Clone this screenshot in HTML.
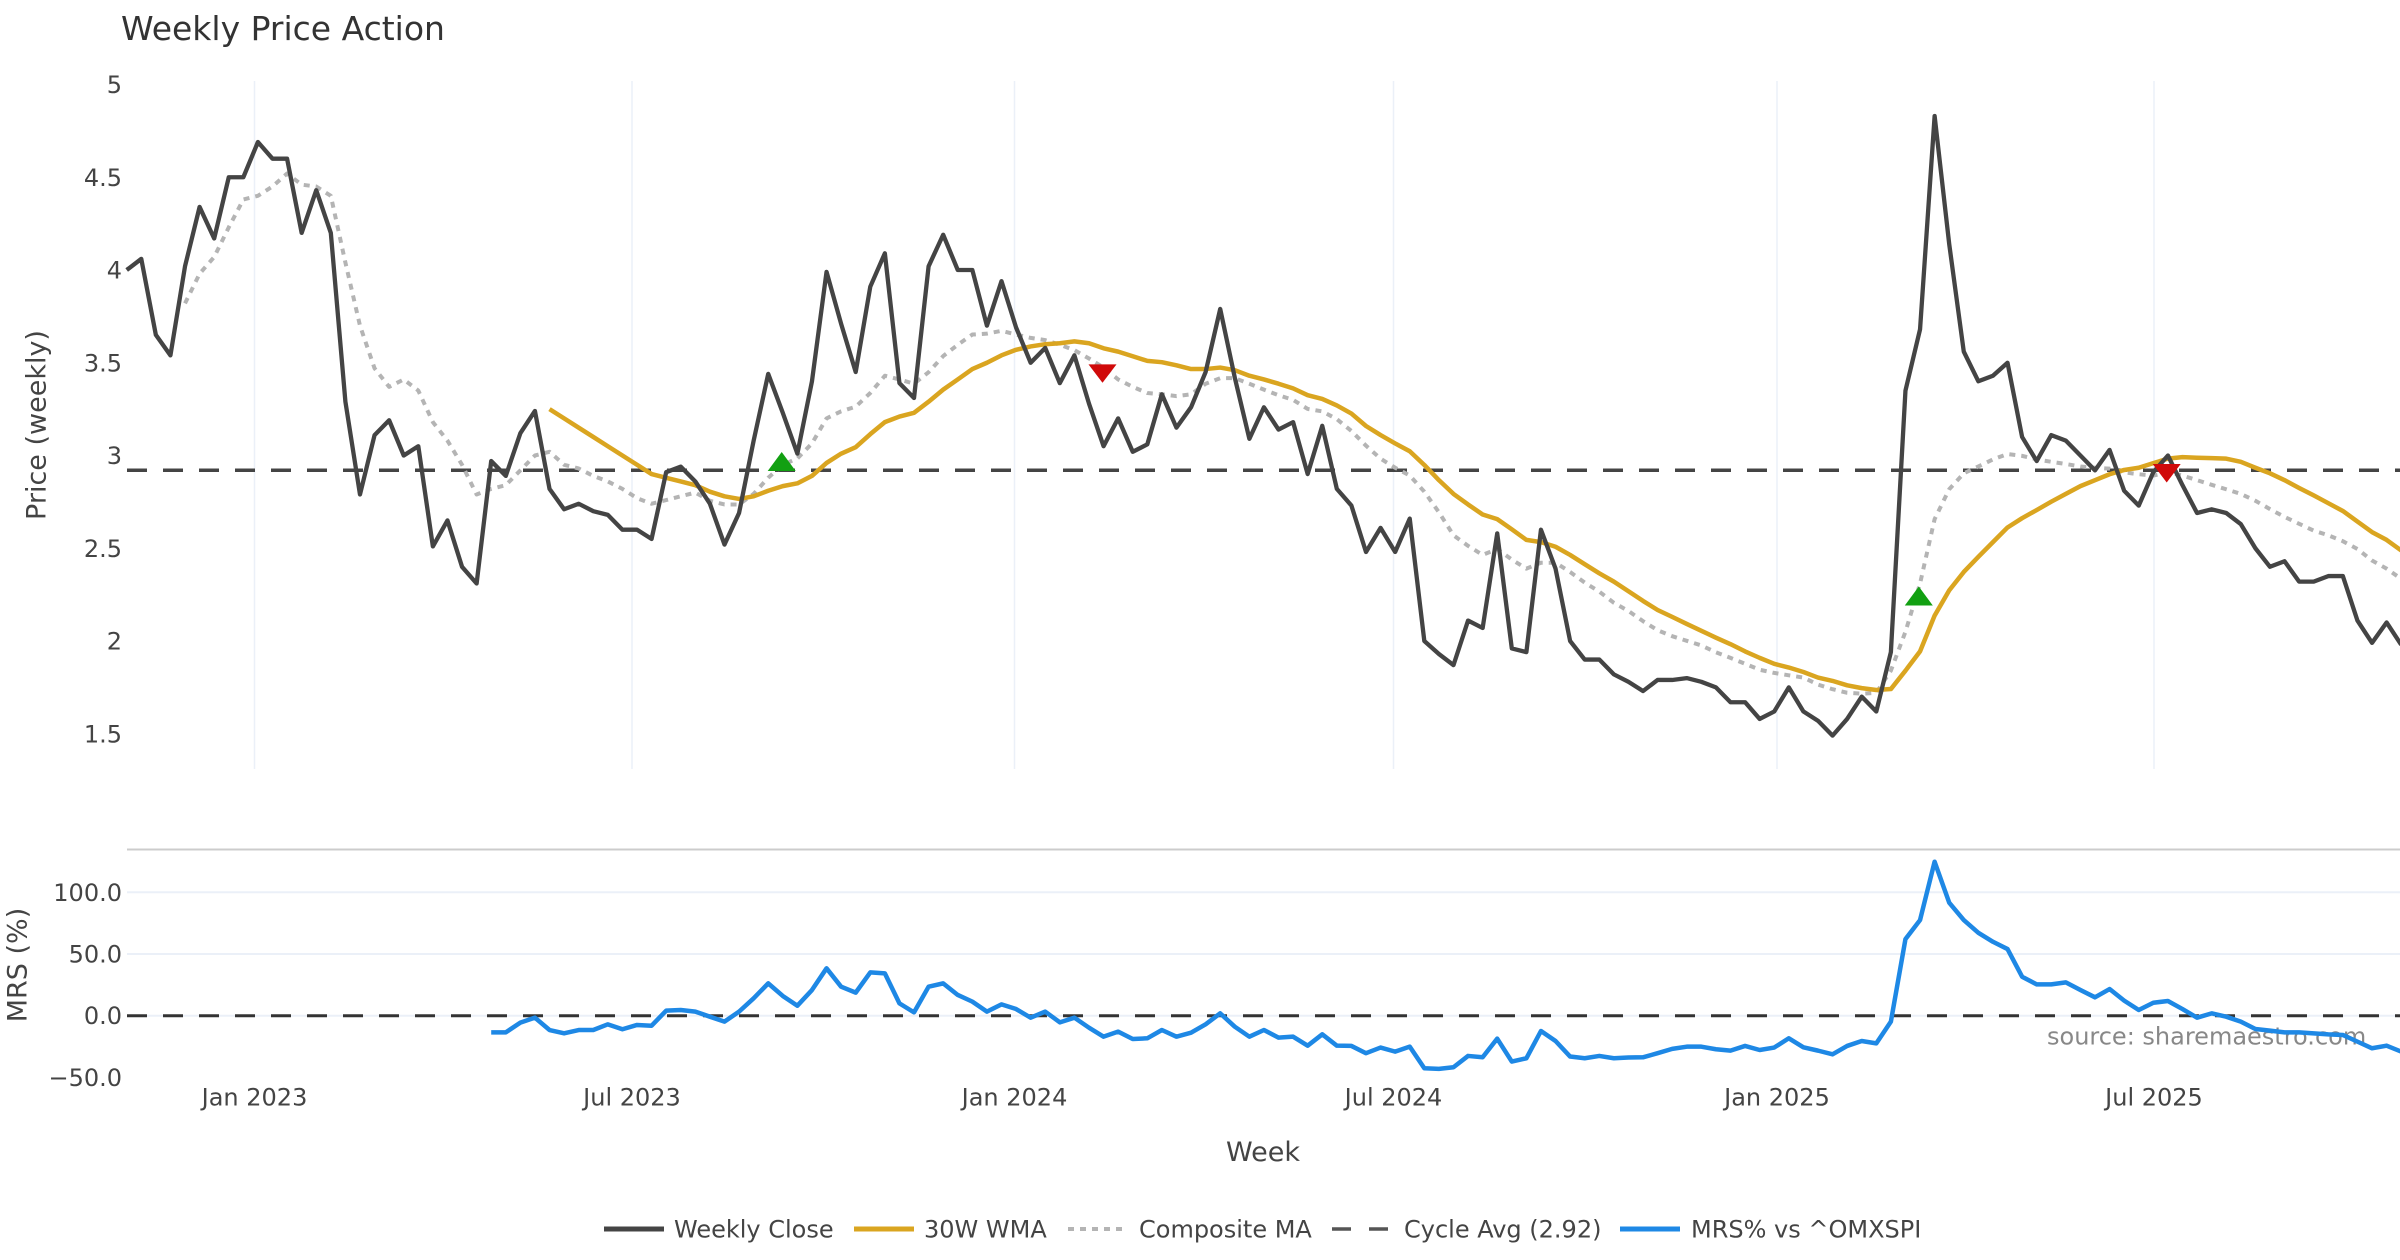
<!DOCTYPE html>
<html>
<head>
<meta charset="utf-8">
<style>
  html, body { margin: 0; padding: 0; background: #ffffff; }
  svg { display: block; }
  text { font-family: "DejaVu Sans", "Liberation Sans", sans-serif; }
</style>
</head>
<body>
<svg xmlns="http://www.w3.org/2000/svg" width="2400" height="1260" viewBox="0 0 2400 1260">
  <rect x="0" y="0" width="2400" height="1260" fill="#ffffff"/>

  <!-- Title -->
  <text x="121" y="40" font-size="33" fill="#333333">Weekly Price Action</text>

  <!-- Price panel vertical gridlines -->
  <g stroke="#EBF0F8" stroke-width="1.5">
    <line x1="254.5" y1="81" x2="254.5" y2="769"/>
    <line x1="632" y1="81" x2="632" y2="769"/>
    <line x1="1014.5" y1="81" x2="1014.5" y2="769"/>
    <line x1="1393.5" y1="81" x2="1393.5" y2="769"/>
    <line x1="1777" y1="81" x2="1777" y2="769"/>
    <line x1="2154" y1="81" x2="2154" y2="769"/>
  </g>

  <!-- Price y tick labels -->
  <g font-size="24" fill="#444444" text-anchor="end">
    <text x="122" y="93">5</text>
    <text x="122" y="186">4.5</text>
    <text x="122" y="278.5">4</text>
    <text x="122" y="371.5">3.5</text>
    <text x="122" y="464">3</text>
    <text x="122" y="557">2.5</text>
    <text x="122" y="649.5">2</text>
    <text x="122" y="742.5">1.5</text>
  </g>

  <!-- Price axis title -->
  <text transform="translate(36,425) rotate(-90)" text-anchor="middle" dy="0.36em" font-size="27" fill="#444444">Price (weekly)</text>

  <!-- Cycle average dashed line -->
  <line x1="127" y1="470.3" x2="2400" y2="470.3" stroke="#444444" stroke-width="3.5" stroke-dasharray="20 16"/>

  <!-- Price series (data coords: x=index, y=value) -->
  <g transform="translate(126.7,1012) scale(14.58,-185.5)" fill="none" stroke-linejoin="round">
    <!-- Composite MA -->
    <polyline vector-effect="non-scaling-stroke" stroke="#b4b4b4" stroke-width="4" stroke-dasharray="6 6"
      points="4,3.82 5,3.98 6,4.07 7,4.23 8,4.38 9,4.40 10,4.45 11,4.52 12,4.46 13,4.45 14,4.40 15,4.04 16,3.70 17,3.47 18,3.37 19,3.41 20,3.35 21,3.18 22,3.08 23,2.95 24,2.79 25,2.82 26,2.84 27,2.92 28,3.00 29,3.02 30,2.95 31,2.93 32,2.89 33,2.86 34,2.82 35,2.77 36,2.74 37,2.76 38,2.78 39,2.80 40,2.756 41,2.736 42,2.736 43,2.793 44,2.88 45,2.95 46,2.984 47,3.065 48,3.20 49,3.238 50,3.263 51,3.337 52,3.43 53,3.41 54,3.387 55,3.449 56,3.536 57,3.597 58,3.652 59,3.657 60,3.672 61,3.652 62,3.634 63,3.622 64,3.597 65,3.568 66,3.523 67,3.474 68,3.41 69,3.37 70,3.337 71,3.33 72,3.32 73,3.33 74,3.387 75,3.417 76,3.417 77,3.387 78,3.355 79,3.325 80,3.30 81,3.251 82,3.238 83,3.196 84,3.132 85,3.053 86,2.983 87,2.934 88,2.892 89,2.805 90,2.694 91,2.57 92,2.513 93,2.464 94,2.496 95,2.439 96,2.39 97,2.422 98,2.422 99,2.372 100,2.315 101,2.266 102,2.206 103,2.162 104,2.107 105,2.058 106,2.026 107,2.001 108,1.976 109,1.939 110,1.909 111,1.877 112,1.845 113,1.828 114,1.815 115,1.803 116,1.765 117,1.74 118,1.721 119,1.716 120,1.721 121,1.84 122,2.05 123,2.31 124,2.657 125,2.818 126,2.904 127,2.941 128,2.979 129,3.008 130,2.998 131,2.979 132,2.966 133,2.954 134,2.941 135,2.934 136,2.929 137,2.909 138,2.899 139,2.892 140,2.909 141,2.892 142,2.867 143,2.842 144,2.818 145,2.793 146,2.756 147,2.711 148,2.669 149,2.632 150,2.595 151,2.57 152,2.538 153,2.496 154,2.434 155,2.39 156,2.335"/>
    <!-- 30W WMA -->
    <polyline vector-effect="non-scaling-stroke" stroke="#DAA520" stroke-width="4.5"
      points="29,3.25 30,3.20 31,3.15 32,3.10 33,3.05 34,3.00 35,2.95 36,2.90 37,2.88 38,2.86 39,2.84 40,2.805 41,2.78 42,2.766 43,2.78 44,2.81 45,2.835 46,2.85 47,2.89 48,2.96 49,3.01 50,3.045 51,3.115 52,3.18 53,3.21 54,3.23 55,3.29 56,3.355 57,3.41 58,3.466 59,3.50 60,3.54 61,3.57 62,3.588 63,3.60 64,3.605 65,3.615 66,3.605 67,3.578 68,3.56 69,3.535 70,3.51 71,3.503 72,3.486 73,3.466 74,3.466 75,3.474 76,3.46 77,3.43 78,3.41 79,3.387 80,3.362 81,3.325 82,3.305 83,3.27 84,3.226 85,3.159 86,3.11 87,3.065 88,3.023 89,2.949 90,2.867 91,2.793 92,2.736 93,2.682 94,2.657 95,2.602 96,2.545 97,2.533 98,2.508 99,2.464 100,2.414 101,2.365 102,2.32 103,2.268 104,2.216 105,2.167 106,2.13 107,2.092 108,2.055 109,2.018 110,1.983 111,1.944 112,1.909 113,1.877 114,1.857 115,1.833 116,1.803 117,1.785 118,1.761 119,1.746 120,1.736 121,1.741 122,1.84 123,1.944 124,2.137 125,2.273 126,2.372 127,2.454 128,2.533 129,2.612 130,2.662 131,2.706 132,2.751 133,2.793 134,2.835 135,2.867 136,2.899 137,2.922 138,2.934 139,2.959 140,2.983 141,2.991 142,2.988 143,2.986 144,2.983 145,2.966 146,2.934 147,2.904 148,2.867 149,2.825 150,2.785 151,2.743 152,2.701 153,2.644 154,2.587 155,2.545 156,2.488"/>
    <!-- Weekly Close -->
    <polyline vector-effect="non-scaling-stroke" stroke="#444444" stroke-width="4.3"
      points="0,4.00 1,4.06 2,3.65 3,3.54 4,4.02 5,4.34 6,4.17 7,4.50 8,4.50 9,4.69 10,4.60 11,4.60 12,4.20 13,4.43 14,4.20 15,3.29 16,2.79 17,3.11 18,3.19 19,3.00 20,3.05 21,2.51 22,2.65 23,2.40 24,2.31 25,2.97 26,2.89 27,3.12 28,3.24 29,2.82 30,2.71 31,2.74 32,2.70 33,2.68 34,2.60 35,2.60 36,2.55 37,2.91 38,2.94 39,2.86 40,2.74 41,2.52 42,2.69 43,3.08 44,3.44 45,3.23 46,3.01 47,3.40 48,3.99 49,3.71 50,3.45 51,3.91 52,4.09 53,3.39 54,3.31 55,4.02 56,4.19 57,4.00 58,4.00 59,3.70 60,3.94 61,3.69 62,3.50 63,3.58 64,3.39 65,3.54 66,3.28 67,3.05 68,3.20 69,3.02 70,3.06 71,3.33 72,3.15 73,3.26 74,3.45 75,3.79 76,3.42 77,3.09 78,3.26 79,3.14 80,3.18 81,2.90 82,3.16 83,2.82 84,2.73 85,2.48 86,2.61 87,2.48 88,2.66 89,2.00 90,1.93 91,1.87 92,2.11 93,2.07 94,2.58 95,1.96 96,1.94 97,2.60 98,2.39 99,2.00 100,1.90 101,1.90 102,1.82 103,1.78 104,1.73 105,1.79 106,1.79 107,1.80 108,1.78 109,1.75 110,1.67 111,1.67 112,1.58 113,1.62 114,1.75 115,1.62 116,1.57 117,1.49 118,1.58 119,1.70 120,1.62 121,1.94 122,3.35 123,3.68 124,4.83 125,4.14 126,3.56 127,3.40 128,3.43 129,3.50 130,3.10 131,2.97 132,3.11 133,3.08 134,3.00 135,2.92 136,3.03 137,2.81 138,2.73 139,2.91 140,3.00 141,2.84 142,2.69 143,2.71 144,2.69 145,2.63 146,2.50 147,2.40 148,2.43 149,2.32 150,2.32 151,2.35 152,2.35 153,2.11 154,1.99 155,2.10 156,1.98"/>
  </g>

  <!-- Signal markers -->
  <polygon points="781.7,452 767.7,471 795.7,471" fill="#12A012"/>
  <polygon points="1918.8,586.5 1904.8,605.5 1932.8,605.5" fill="#12A012"/>
  <polygon points="1088.5,364.4 1116.5,364.4 1102.5,382.8" fill="#D00A0A"/>
  <polygon points="2152.7,464 2180.7,464 2166.7,482.5" fill="#D00A0A"/>

  <!-- Separator line -->
  <line x1="127" y1="849.5" x2="2400" y2="849.5" stroke="#cccccc" stroke-width="2"/>

  <!-- MRS gridlines -->
  <g stroke="#EBF0F8" stroke-width="2">
    <line x1="127" y1="892.3" x2="2400" y2="892.3"/>
    <line x1="127" y1="954" x2="2400" y2="954"/>
    <line x1="127" y1="1015.7" x2="2400" y2="1015.7"/>
  </g>

  <!-- MRS y tick labels -->
  <g font-size="24" fill="#444444" text-anchor="end">
    <text x="122" y="901">100.0</text>
    <text x="122" y="962.5">50.0</text>
    <text x="122" y="1024">0.0</text>
    <text x="122" y="1086">−50.0</text>
  </g>

  <!-- MRS axis title -->
  <text transform="translate(17,965) rotate(-90)" text-anchor="middle" dy="0.36em" font-size="27" fill="#444444">MRS (%)</text>

  <!-- MRS zero dashed line -->
  <line x1="127" y1="1015.7" x2="2400" y2="1015.7" stroke="#333333" stroke-width="3" stroke-dasharray="20 16"/>

  <!-- source annotation -->
  <text x="2047" y="1044.5" font-size="24" fill="#888888">source: sharemaestro.com</text>

  <!-- MRS series -->
  <g transform="translate(126.7,1015.7) scale(14.58,-1.234)" fill="none" stroke-linejoin="round">
    <polyline vector-effect="non-scaling-stroke" stroke="#1E88E5" stroke-width="4.5"
      points="25,-13.5 26,-13.5 27,-5.6 28,-1.6 29,-11.6 30,-14.3 31,-11.6 32,-11.6 33,-7.0 34,-11.0 35,-7.5 36,-8.1 37,4.1 38,4.6 39,3.3 40,-0.8 41,-4.8 42,3.3 43,14.1 44,26.2 45,16.0 46,8.1 47,20.8 48,38.4 49,23.5 50,18.7 51,35.1 52,34.3 53,10.0 54,2.7 55,23.5 56,26.2 57,16.8 58,11.4 59,3.3 60,9.2 61,5.4 62,-1.6 63,3.3 64,-5.4 65,-1.6 66,-9.7 67,-17.0 68,-12.9 69,-18.9 70,-18.3 71,-11.6 72,-17.0 73,-13.8 74,-7.0 75,1.9 76,-8.9 77,-17.0 78,-11.6 79,-17.8 80,-17.0 81,-24.3 82,-15.1 83,-24.3 84,-24.5 85,-30.4 86,-25.8 87,-29.1 88,-25.1 89,-42.6 90,-43.1 91,-41.8 92,-32.6 93,-33.7 94,-18.6 95,-37.2 96,-34.5 97,-12.4 98,-20.5 99,-33.1 100,-34.5 101,-32.6 102,-34.5 103,-33.9 104,-33.7 105,-30.4 106,-26.9 107,-25.1 108,-25.1 109,-27.2 110,-28.3 111,-24.5 112,-27.8 113,-25.8 114,-18.3 115,-25.6 116,-28.3 117,-31.3 118,-24.5 119,-20.5 120,-22.4 121,-4.8 122,62.1 123,77.5 124,124.8 125,91.6 126,77.5 127,67.2 128,59.9 129,54.0 130,31.6 131,25.4 132,25.4 133,27.0 134,20.8 135,14.9 136,21.6 137,12.2 138,4.6 139,10.5 140,11.9 141,5.4 142,-1.6 143,1.9 144,-0.8 145,-4.8 146,-10.8 147,-12.1 148,-13.5 149,-13.5 150,-14.3 151,-15.1 152,-15.6 153,-21.0 154,-26.4 155,-24.3 156,-29.1"/>
  </g>

  <!-- X tick labels -->
  <g font-size="24" fill="#444444" text-anchor="middle">
    <text x="254.5" y="1105.5">Jan 2023</text>
    <text x="632" y="1105.5">Jul 2023</text>
    <text x="1014.5" y="1105.5">Jan 2024</text>
    <text x="1393.5" y="1105.5">Jul 2024</text>
    <text x="1777" y="1105.5">Jan 2025</text>
    <text x="2154" y="1105.5">Jul 2025</text>
  </g>

  <!-- X axis title -->
  <text x="1263" y="1161" font-size="27" fill="#444444" text-anchor="middle">Week</text>

  <!-- Legend -->
  <g>
    <line x1="604" y1="1229" x2="664" y2="1229" stroke="#444444" stroke-width="5"/>
    <text x="674" y="1237.5" font-size="24" fill="#444444">Weekly Close</text>

    <line x1="854" y1="1229" x2="914" y2="1229" stroke="#DAA520" stroke-width="5"/>
    <text x="924" y="1237.5" font-size="24" fill="#444444">30W WMA</text>

    <line x1="1068" y1="1229" x2="1124" y2="1229" stroke="#b4b4b4" stroke-width="4" stroke-dasharray="6 6"/>
    <text x="1139" y="1237.5" font-size="24" fill="#444444">Composite MA</text>

    <line x1="1332" y1="1229" x2="1388" y2="1229" stroke="#555555" stroke-width="3.5" stroke-dasharray="19 18"/>
    <text x="1404" y="1237.5" font-size="24" fill="#444444">Cycle Avg (2.92)</text>

    <line x1="1620" y1="1229" x2="1680" y2="1229" stroke="#1E88E5" stroke-width="5"/>
    <text x="1691" y="1237.5" font-size="24" fill="#444444">MRS% vs ^OMXSPI</text>
  </g>
</svg>
</body>
</html>
